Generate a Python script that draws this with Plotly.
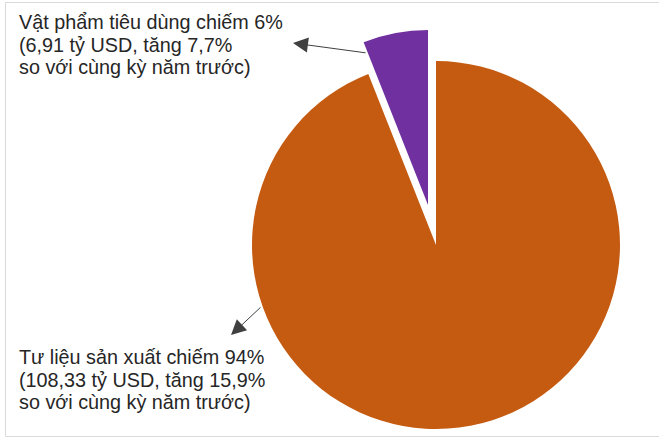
import plotly.graph_objects as go

# ---- data ----
categories = ["Vật phẩm tiêu dùng", "Tư liệu sản xuất"]
values = [6.91, 108.33]          # tỷ USD
shares = [6, 94]                 # %
growth = [7.7, 15.9]             # % so với cùng kỳ
colors = ["#7030A0", "#C55A11"]

W, H = 659, 438
FONT = "Liberation Sans, Arial, sans-serif"
TXT = "#262626"

def vn(x, nd):
    return f"{x:.{nd}f}".replace(".", ",")

def px_x(p):
    return p / W

def px_y(p):
    return 1 - p / H

def dom(cx, cy, r):
    return dict(x=[px_x(cx - r), px_x(cx + r)], y=[px_y(cy + r), px_y(cy - r)])

clear = "rgba(0,0,0,0)"
# slice order: big slice first (clockwise from 12 o'clock), small slice ends at 12 o'clock
order = [1, 0]
labs = [categories[i] for i in order]
vals = [values[i] for i in order]

fig = go.Figure()
# main (non-exploded) slice
fig.add_trace(go.Pie(
    labels=labs, values=vals, sort=False, direction="clockwise",
    rotation=0, textinfo="none", hoverinfo="label+value",
    marker=dict(colors=[colors[1], clear], line=dict(width=0)),
    domain=dom(436, 245, 184), showlegend=False))
# exploded slice
fig.add_trace(go.Pie(
    labels=labs, values=vals, sort=False, direction="clockwise",
    rotation=0, textinfo="none", hoverinfo="label+value",
    marker=dict(colors=[clear, colors[0]], line=dict(width=0)),
    domain=dom(428, 205, 175), showlegend=False))

labels_lines = []
for i in range(len(categories)):
    labels_lines.append([
        f"{categories[i]} chiếm {shares[i]}%",
        f"({vn(values[i], 2)} tỷ USD, tăng {vn(growth[i], 1)}%",
        "so với cùng kỳ năm trước)",
    ])

line_y = [[22, 44.5, 67], [357, 380, 402]]
annotations = []
for i in range(2):
    for j, t in enumerate(labels_lines[i]):
        annotations.append(dict(
            text=t, x=px_x(17), y=px_y(line_y[i][j]), xref="paper", yref="paper",
            xanchor="left", yanchor="middle", showarrow=False,
            font=dict(family=FONT, size=19.8, color=TXT)))

# arrows (tip at label side, tail at slice)
arrows = [((293, 43), (367, 53)), ((231, 335), (262, 306))]
for (tx, ty), (sx, sy) in arrows:
    annotations.append(dict(
        text="", x=px_x(tx), y=px_y(ty), xref="paper", yref="paper",
        ax=sx - tx, ay=sy - ty, showarrow=True, arrowhead=2, arrowsize=3,
        arrowwidth=1, arrowcolor="#404040", standoff=0))

fig.update_layout(
    width=W, height=H, margin=dict(l=0, r=0, t=0, b=0),
    paper_bgcolor="white", plot_bgcolor="white",
    annotations=annotations,
    shapes=[dict(type="rect", xref="paper", yref="paper",
                 x0=px_x(5.5), x1=1.02, y0=px_y(436.5), y1=px_y(2.5),
                 line=dict(color="#D9D9D9", width=1), fillcolor=clear, layer="below")],
)
fig.write_html("out.html", config={"displayModeBar": False},
               post_script="document.body.style.margin='0';")
